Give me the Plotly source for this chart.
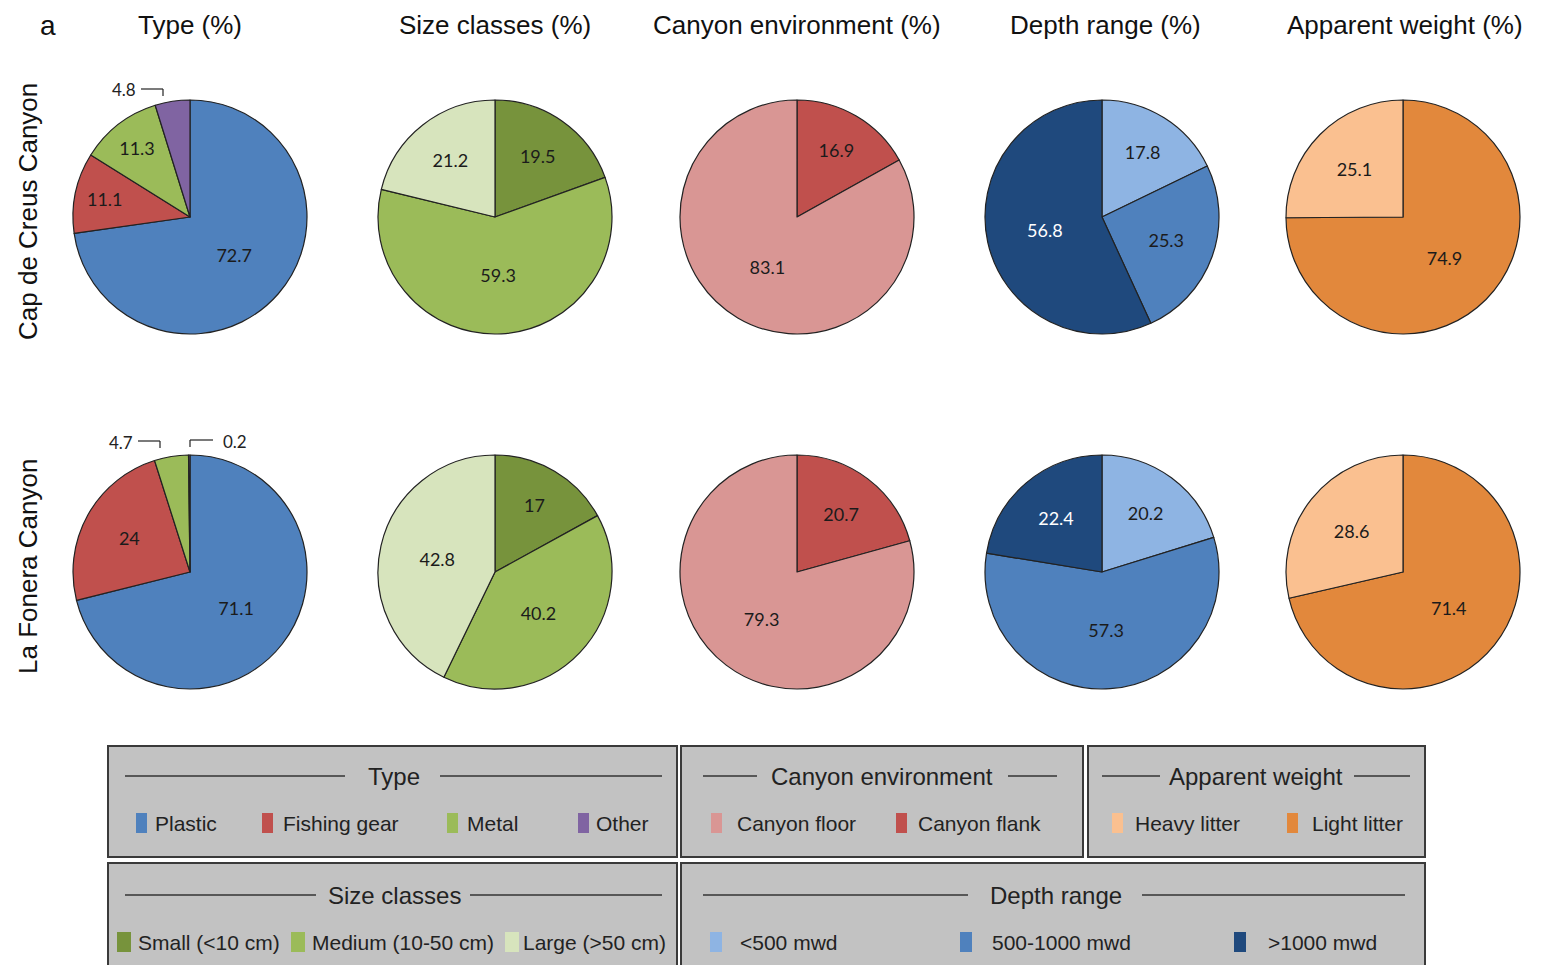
import plotly.graph_objects as go

# the page body has an 8px margin; the figure is sized so that it fits the 1546x973 window
OFF = 8
W, H = 1546 - 2 * OFF, 973 - 2 * OFF

# ---------------- data ----------------
type_labels = ["Plastic", "Fishing gear", "Metal", "Other"]
type_colors = ["#4f81bd", "#c0504d", "#9bbb59", "#8064a2"]
type_cap = [72.7, 11.1, 11.3, 4.8]
type_fon = [71.1, 24, 4.7, 0.2]

size_labels = ["Small (<10 cm)", "Medium (10-50 cm)", "Large (>50 cm)"]
size_colors = ["#77933c", "#9bbb59", "#d7e4bd"]
size_cap = [19.5, 59.3, 21.2]
size_fon = [17, 40.2, 42.8]

env_labels = ["Canyon flank", "Canyon floor"]
env_colors = ["#c0504d", "#d99694"]
env_cap = [16.9, 83.1]
env_fon = [20.7, 79.3]

depth_labels = ["<500 mwd", "500-1000 mwd", ">1000 mwd"]
depth_colors = ["#8eb4e3", "#4f81bd", "#1f497d"]
depth_cap = [17.8, 25.3, 56.8]
depth_fon = [20.2, 57.3, 22.4]

weight_labels = ["Light litter", "Heavy litter"]
weight_colors = ["#e2883c", "#fac090"]
weight_cap = [74.9, 25.1]
weight_fon = [71.4, 28.6]

col_titles = ["Type (%)", "Size classes (%)", "Canyon environment (%)",
              "Depth range (%)", "Apparent weight (%)"]
row_titles = ["Cap de Creus Canyon", "La Fonera Canyon"]

# ---------------- layout helpers ----------------
def px(x):
    return (x - OFF) / W

def py(y):
    return 1 - (y - OFF) / H

col_cx = [190, 495, 797, 1102, 1403]
row_cy = [217, 572]
R = 117

fig = go.Figure()

groups = [
    (type_labels, type_colors, [type_cap, type_fon]),
    (size_labels, size_colors, [size_cap, size_fon]),
    (env_labels, env_colors, [env_cap, env_fon]),
    (depth_labels, depth_colors, [depth_cap, depth_fon]),
    (weight_labels, weight_colors, [weight_cap, weight_fon]),
]

SMALL = 6  # values below this are labelled outside with a bracket
for ci, (labels, colors, rows) in enumerate(groups):
    for ri, vals in enumerate(rows):
        cx, cy = col_cx[ci], row_cy[ri]
        texts = [("%g" % v) if v >= SMALL else "" for v in vals]
        tcolors = ["white" if c == "#1f497d" else "#1b1b1b" for c in colors]
        fig.add_trace(go.Pie(
            labels=labels, values=vals, sort=False, direction="clockwise",
            rotation=0, text=texts, textinfo="text", textposition="inside",
            insidetextorientation="horizontal",
            textfont=dict(family="Lato", size=18, color=tcolors),
            marker=dict(colors=colors, line=dict(color="#222222", width=1.2)),
            domain=dict(x=[px(cx - R), px(cx + R)], y=[py(cy + R), py(cy - R)]),
            showlegend=False, hoverinfo="label+value",
        ))

shapes = []
ann = []

# small-slice bracket labels
def bracket(text, tx, ty, x0, x1, tick_x, side):
    ann.append(dict(x=px(tx), y=py(ty), xref="paper", yref="paper", text=text,
                    showarrow=False, xanchor=side, yanchor="middle",
                    font=dict(family="Lato", size=17, color="#222")))
    shapes.append(dict(type="line", xref="paper", yref="paper",
                       x0=px(x0), x1=px(x1), y0=py(ty - 1), y1=py(ty - 1),
                       line=dict(color="#222", width=1.2)))
    shapes.append(dict(type="line", xref="paper", yref="paper",
                       x0=px(tick_x), x1=px(tick_x), y0=py(ty - 1), y1=py(ty + 6),
                       line=dict(color="#222", width=1.2)))

bracket("%g" % type_cap[3], 138, 90, 141, 163, 163, "right")
bracket("%g" % type_fon[2], 135, 442, 138, 160, 160, "right")
bracket("%g" % type_fon[3], 221, 441, 190, 213, 190, "left")

# titles
ann.append(dict(x=px(48), y=py(26), xref="paper", yref="paper", text="a",
                showarrow=False, xanchor="center", yanchor="middle",
                font=dict(family="Liberation Sans", size=28, color="#111")))
for t, cx in zip(col_titles, [190, 495, 797, 1105, 1405]):
    ann.append(dict(x=px(cx), y=py(25), xref="paper", yref="paper", text=t,
                    showarrow=False, xanchor="center", yanchor="middle",
                    font=dict(family="Liberation Sans", size=26, color="#111")))
for t, cy in zip(row_titles, [212, 567]):
    ann.append(dict(x=px(28), y=py(cy), xref="paper", yref="paper", text=t, textangle=-90,
                    showarrow=False, xanchor="center", yanchor="middle",
                    font=dict(family="Liberation Sans", size=26, color="#111")))

# ---------------- legend boxes ----------------
def legend_box(x0, y0, x1, y1, title, title_x, lines, hy, ey, labels, colors, sw_x, tx, sw_w=11):
    shapes.append(dict(type="rect", xref="paper", yref="paper",
                       x0=px(x0), x1=px(x1), y0=py(y1), y1=py(y0),
                       fillcolor="#c2c2c2", line=dict(color="#3a3a3a", width=2), layer="below"))
    ann.append(dict(x=px(title_x), y=py(hy), xref="paper", yref="paper", text=title,
                    showarrow=False, xanchor="center", yanchor="middle",
                    font=dict(family="Liberation Sans", size=24, color="#222")))
    for (a, b) in lines:
        shapes.append(dict(type="line", xref="paper", yref="paper",
                           x0=px(a), x1=px(b), y0=py(hy), y1=py(hy),
                           line=dict(color="#333", width=1.5)))
    for lab, col, sx, t in zip(labels, colors, sw_x, tx):
        shapes.append(dict(type="rect", xref="paper", yref="paper",
                           x0=px(sx), x1=px(sx + sw_w), y0=py(ey + 10), y1=py(ey - 10),
                           fillcolor=col, line=dict(width=0)))
        ann.append(dict(x=px(t), y=py(ey), xref="paper", yref="paper", text=lab,
                        showarrow=False, xanchor="left", yanchor="middle",
                        font=dict(family="Liberation Sans", size=21, color="#222")))

legend_box(108, 746, 677, 857, "Type", 394, [(125, 345), (440, 662)], 776, 823,
           type_labels, type_colors, [136, 262, 447, 578], [153, 281, 465, 594])
legend_box(681, 746, 1083, 857, "Canyon environment", 882, [(703, 757), (1008, 1057)], 776, 823,
           env_labels[::-1], env_colors[::-1], [711, 896], [735, 916])
legend_box(1088, 746, 1425, 857, "Apparent weight", 1256, [(1102, 1160), (1354, 1410)], 776, 823,
           weight_labels[::-1], weight_colors[::-1], [1112, 1287], [1133, 1310])
legend_box(108, 863, 677, 985, "Size classes", 394, [(125, 316), (470, 662)], 895, 942,
           size_labels, size_colors, [117, 291, 505], [136, 310, 521], sw_w=14)
legend_box(681, 863, 1425, 985, "Depth range", 1056, [(703, 968), (1142, 1405)], 895, 942,
           depth_labels, depth_colors, [710, 960, 1234], [738, 990, 1266], sw_w=12)

fig.update_layout(width=W, height=H, margin=dict(l=0, r=0, t=0, b=0),
                  paper_bgcolor="white", plot_bgcolor="white",
                  shapes=shapes, annotations=ann)

fig.write_html("out.html")
